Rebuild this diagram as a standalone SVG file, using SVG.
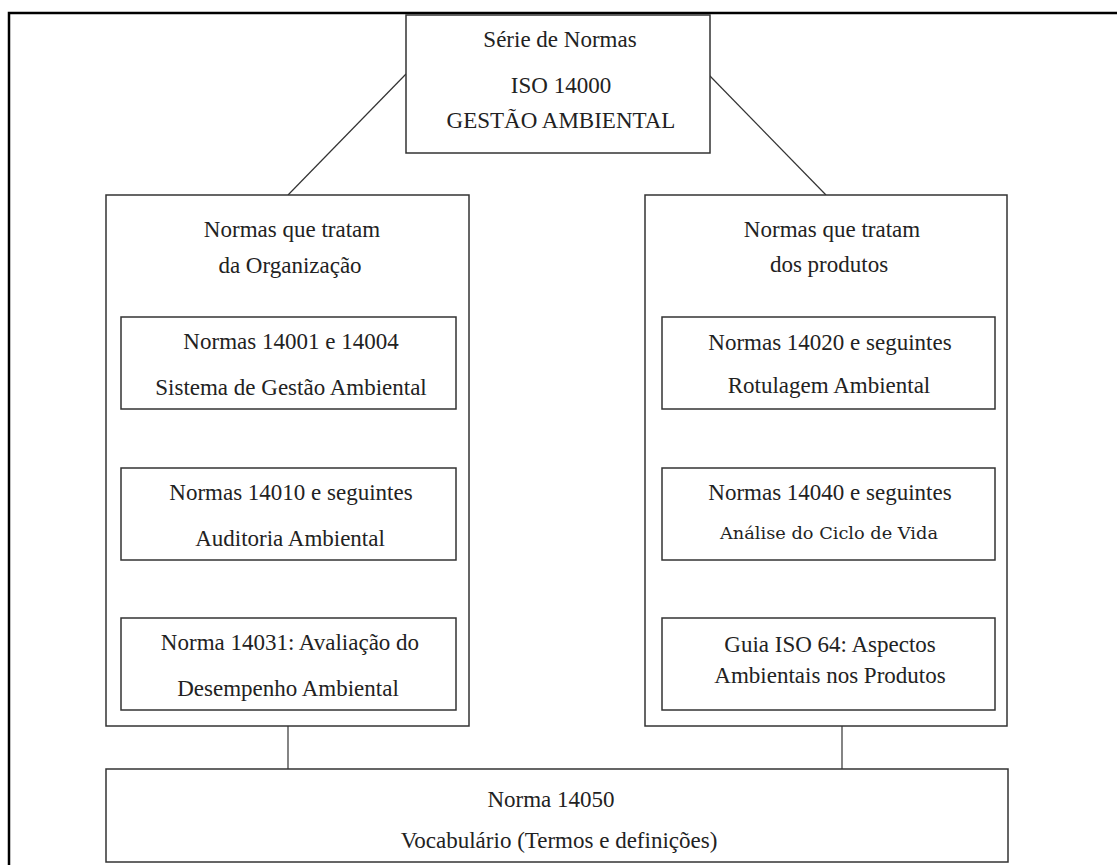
<svg xmlns="http://www.w3.org/2000/svg" width="1117" height="865" viewBox="0 0 1117 865">
<style>
.box{fill:#fff;stroke:#333;stroke-width:1.5}
.t{font-family:"Liberation Serif","Times New Roman",serif;font-size:23px;fill:#222;text-anchor:middle}
.t2{font-family:"DejaVu Serif",serif;font-size:17px;fill:#222;text-anchor:middle}
.c{stroke:#333;stroke-width:1.2;fill:none}
</style>
<rect width="1117" height="865" fill="#fff"/>
<path d="M9 865 V13 H1117" fill="none" stroke="#000" stroke-width="2.5"/>
<g id="connectors">
<line class="c" x1="406" y1="74" x2="288" y2="195"/>
<line class="c" x1="709" y1="75" x2="826" y2="195"/>
<line class="c" x1="288" y1="726" x2="288" y2="769"/>
<line class="c" x1="842" y1="726" x2="842" y2="769"/>
</g>
<g id="top">
<rect class="box" x="406" y="15" width="304" height="138"/>
<text class="t" x="560" y="47">Série de Normas</text>
<text class="t" x="561" y="93">ISO 14000</text>
<text class="t" x="561" y="128">GESTÃO AMBIENTAL</text>
</g>
<g id="org">
<rect class="box" x="106" y="195" width="363" height="531"/>
<text class="t" x="292" y="237">Normas que tratam</text>
<text class="t" x="290" y="273">da Organização</text>
</g>
<g id="n14001">
<rect class="box" x="121" y="317" width="335" height="92"/>
<text class="t" x="291" y="349">Normas 14001 e 14004</text>
<text class="t" x="291" y="395">Sistema de Gestão Ambiental</text>
</g>
<g id="n14010">
<rect class="box" x="121" y="468" width="335" height="92"/>
<text class="t" x="291" y="500">Normas 14010 e seguintes</text>
<text class="t" x="290" y="546">Auditoria Ambiental</text>
</g>
<g id="n14031">
<rect class="box" x="121" y="618" width="335" height="92"/>
<text class="t" x="290" y="650">Norma 14031: Avaliação do</text>
<text class="t" x="288" y="696">Desempenho Ambiental</text>
</g>
<g id="prod">
<rect class="box" x="645" y="195" width="362" height="531"/>
<text class="t" x="832" y="237">Normas que tratam</text>
<text class="t" x="829" y="272">dos produtos</text>
</g>
<g id="n14020">
<rect class="box" x="662" y="317" width="333" height="92"/>
<text class="t" x="830" y="350">Normas 14020 e seguintes</text>
<text class="t" x="829" y="393">Rotulagem Ambiental</text>
</g>
<g id="n14040">
<rect class="box" x="662" y="468" width="333" height="92"/>
<text class="t" x="830" y="500">Normas 14040 e seguintes</text>
<text class="t2" x="829" y="539" textLength="218" lengthAdjust="spacingAndGlyphs">Análise do Ciclo de Vida</text>
</g>
<g id="guia64">
<rect class="box" x="662" y="618" width="333" height="92"/>
<text class="t" x="830" y="652">Guia ISO 64: Aspectos</text>
<text class="t" x="830" y="683">Ambientais nos Produtos</text>
</g>
<g id="n14050">
<rect class="box" x="106" y="769" width="902" height="93"/>
<text class="t" x="551" y="807">Norma 14050</text>
<text class="t" x="559" y="848">Vocabulário (Termos e definições)</text>
</g>
</svg>
